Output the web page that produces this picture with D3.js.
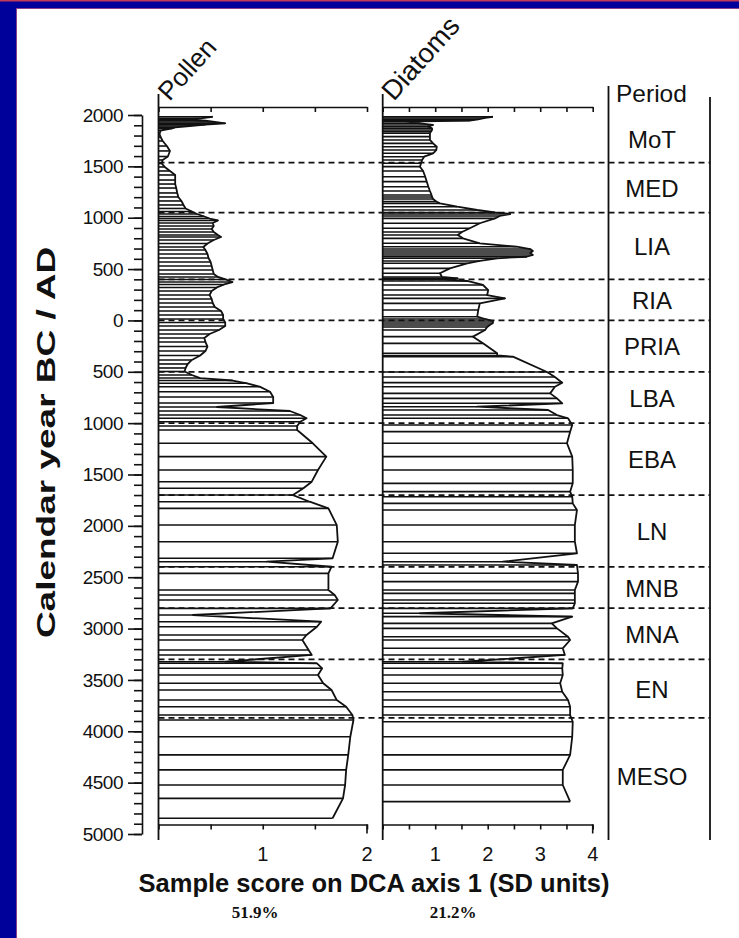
<!DOCTYPE html>
<html>
<head>
<meta charset="utf-8">
<script src="https://cdn.jsdelivr.net/npm/d3@7/dist/d3.min.js"></script>
<style>
  body { margin: 0; background: #fff; }
  svg { display: block; }
  text { font-family: "Liberation Sans", Arial, sans-serif; fill: #111; }
</style>
</head>
<body>
<div id="chart"></div>
<script>
// DCA axis 1 sample scores against calendar year (positive = AD, negative = BC)
const pollenYears = [1983, 1968, 1956, 1944, 1932, 1919, 1906, 1893, 1880, 1869, 1849, 1815, 1786, 1747, 1698,
  1650, 1596, 1562, 1528, 1494, 1455, 1416, 1367, 1328, 1289, 1241, 1202, 1163, 1124, 1090, 1060, 1036, 1012,
  992, 973, 949, 919, 890, 861, 832, 812, 783, 749, 715, 686, 647, 608, 569, 530, 491, 452, 423, 398, 374, 350,
  321, 286, 248, 209, 170, 131, 92, 53, 14, -20, -54, -93, -132, -171, -210, -254, -298, -341, -385, -424, -463,
  -497, -531, -561, -585, -612, -645, -694, -745, -804, -843, -882, -921, -953, -986, -1028, -1067, -1196, -1326,
  -1456, -1570, -1634, -1700, -1765, -1830, -1992, -2154, -2316, -2349, -2398, -2463, -2625, -2673, -2722, -2803,
  -2868, -2933, -2982, -3062, -3111, -3208, -3257, -3323, -3338, -3387, -3452, -3533, -3598, -3696, -3761, -3842,
  -3890, -4053, -4230, -4376, -4523, -4653, -4847];
const pollenScores = [0.52, 0.40, 0.26, 0.45, 0.54, 0.64, 0.45, 0.30, 0.16, 0.13, 0.02, 0.01, 0.02, 0.04, 0.08,
  0.11, 0.09, 0.04, 0.03, 0.06, 0.11, 0.16, 0.16, 0.16, 0.17, 0.18, 0.19, 0.22, 0.24, 0.26, 0.32, 0.37, 0.44,
  0.49, 0.57, 0.52, 0.53, 0.51, 0.53, 0.57, 0.60, 0.53, 0.47, 0.43, 0.45, 0.47, 0.48, 0.50, 0.51, 0.52, 0.53, 0.57,
  0.65, 0.71, 0.63, 0.56, 0.51, 0.49, 0.51, 0.52, 0.54, 0.60, 0.62, 0.62, 0.64, 0.64, 0.58, 0.49, 0.44, 0.45, 0.47,
  0.45, 0.40, 0.32, 0.28, 0.26, 0.25, 0.32, 0.40, 0.71, 0.85, 0.97, 1.07, 1.10, 1.10, 0.56, 1.26, 1.36, 1.42, 1.36,
  1.33, 1.33, 1.48, 1.61, 1.53, 1.47, 1.39, 1.29, 1.45, 1.63, 1.71, 1.72, 1.67, 1.04, 1.66, 1.63, 1.63, 1.69, 1.72,
  1.65, 0.33, 1.56, 1.52, 1.42, 1.38, 1.44, 1.47, 0.64, 1.52, 1.57, 1.53, 1.58, 1.66, 1.71, 1.80, 1.86, 1.87, 1.84,
  1.82, 1.80, 1.79, 1.77, 1.67];

const diatomYears = [1983, 1971, 1958, 1946, 1935, 1919, 1903, 1886, 1871, 1854, 1838, 1822, 1789, 1757, 1724, 1691,
  1659, 1627, 1594, 1562, 1530, 1497, 1455, 1399, 1351, 1302, 1260, 1221, 1202, 1182, 1158, 1140, 1107, 1075,
  1051, 1036, 1017, 994, 946, 897, 861, 832, 799, 751, 718, 695, 676, 656, 637, 620, 605, 579, 556, 507, 459, 423,
  410, 398, 384, 345, 296, 247, 215, 166, 101, 36, 14, -6, -25, -45, -64, -93, -158, -223, -320, -341, -353, -502,
  -551, -606, -645, -710, -759, -807, -840, -872, -921, -953, -1018, -1083, -1196, -1326, -1456, -1586, -1667,
  -1716, -1781, -1846, -1992, -2154, -2267, -2349, -2381, -2462, -2543, -2625, -2657, -2722, -2754, -2803, -2851,
  -2884, -2949, -2998, -3079, -3111, -3192, -3257, -3323, -3338, -3387, -3452, -3533, -3615, -3696, -3761, -3842,
  -3907, -4053, -4230, -4376, -4523, -4685];
const diatomScores = [2.10, 1.95, 1.82, 1.66, 0.46, 0.71, 0.96, 0.86, 0.94, 0.94, 0.92, 0.90, 0.90, 0.90, 0.96, 1.03,
  1.02, 0.96, 0.79, 0.75, 0.73, 0.71, 0.77, 0.81, 0.84, 0.87, 0.90, 0.93, 0.94, 0.96, 1.02, 1.09, 1.42, 1.80,
  2.14, 2.43, 2.23, 2.14, 1.85, 1.66, 1.51, 1.43, 1.53, 1.85, 2.55, 2.81, 2.86, 2.81, 2.86, 2.74, 2.18, 1.85, 1.61,
  1.28, 1.09, 1.13, 1.43, 1.19, 1.61, 1.91, 2.01, 1.99, 2.33, 1.85, 1.82, 1.80, 1.95, 2.10, 2.10, 2.04, 1.99, 1.95,
  1.72, 1.91, 2.18, 2.18, 2.48, 3.13, 3.28, 3.42, 3.28, 3.19, 3.32, 3.42, 1.80, 3.15, 3.32, 3.53, 3.61, 3.57, 3.51,
  3.61, 3.62, 3.62, 3.57, 3.61, 3.62, 3.70, 3.66, 3.66, 3.70, 2.29, 3.70, 3.72, 3.72, 3.66, 3.66, 3.66, 3.66, 3.62,
  0.71, 3.61, 3.22, 3.32, 3.53, 3.57, 3.43, 3.47, 1.53, 3.43, 3.42, 3.43, 3.38, 3.42, 3.53, 3.57, 3.57, 3.62, 3.61,
  3.57, 3.43, 3.43, 3.57];

const periodNames = ['MoT', 'MED', 'LIA', 'RIA', 'PRIA', 'LBA', 'EBA', 'LN', 'MNB', 'MNA', 'EN', 'MESO'];
const periodBounds = [2000, 1536, 1050, 400, 0, -500, -1000, -1700, -2400, -2800, -3300, -3870, -5000];

const yearTicks = d3.range(2000, -5001, -500);
const yearMinorTicks = d3.range(2000, -5001, -100);
const pollenTicks = [0, 0.5, 1, 1.5, 2];
const pollenLabels = [1, 2];
const diatomTicks = [0, 0.5, 1, 1.5, 2, 2.5, 3, 3.5, 4];
const diatomLabels = [1, 2, 3, 4];
const variance = ['51.9%', '21.2%'];

const width = 739, height = 938;
const ink = '#111';
const svg = d3.select('#chart').append('svg')
    .attr('width', width)
    .attr('height', height);

// frame of the original slide
svg.append('rect').attr('x', 0).attr('y', 0).attr('width', width).attr('height', 8).attr('fill', '#00009a');
svg.append('rect').attr('x', 0).attr('y', 0).attr('width', 16).attr('height', height).attr('fill', '#00009a');
svg.append('rect').attr('x', 0).attr('y', 0).attr('width', width).attr('height', 1.5).attr('fill', '#c23a5a');
svg.append('line').attr('x1', 16).attr('x2', width).attr('y1', 8.5).attr('y2', 8.5).attr('stroke', '#8a3f8f').attr('stroke-width', 1);
svg.append('line').attr('x1', 16.5).attr('x2', 16.5).attr('y1', 8).attr('y2', height).attr('stroke', '#8a3f8f').attr('stroke-width', 1);

const y = d3.scaleLinear().domain([2000, -5000]).range([115, 834]);
const xPollen = d3.scaleLinear().domain([0, 2]).range([158.5, 367]);
const xDiatom = d3.scaleLinear().domain([0, 4]).range([382.7, 592.7]);

const topScaleY = 107, bottomScaleY = 824.5;

// year axis
const yAxisX = 142;
svg.append('g')
    .attr('transform', `translate(${yAxisX},0)`)
    .call(d3.axisLeft(y).tickValues(yearMinorTicks).tickSize(8).tickSizeOuter(0).tickFormat(''))
    .call(g => g.selectAll('line').attr('stroke', ink).attr('stroke-width', 1.6))
    .call(g => g.select('.domain').attr('stroke', ink).attr('stroke-width', 1.6));
svg.append('g')
    .attr('transform', `translate(${yAxisX},0)`)
    .call(d3.axisLeft(y).tickValues(yearTicks).tickSize(14).tickPadding(5).tickSizeOuter(0).tickFormat(d => Math.abs(d)))
    .call(g => g.select('.domain').remove())
    .call(g => g.selectAll('line').attr('stroke', ink).attr('stroke-width', 1.6))
    .call(g => g.selectAll('text').style('font-size', '19px').attr('fill', ink).attr('letter-spacing', '-0.5px'));

// the original figure stretches this title along its length
svg.append('text')
    .attr('transform', `translate(55,${(y(2000) + y(-5000)) / 2 - 32}) rotate(-90) scale(1.48,1)`)
    .attr('text-anchor', 'middle')
    .style('font-size', '25px')
    .style('font-weight', 'bold')
    .text('Calendar year BC / AD');

// one stratigraphic panel: bars from zero plus the joined curve
function drawPanel(x, years, scores, ticks, labels, title, titleSize) {
    const g = svg.append('g');
    const x0 = x.range()[0], x1 = x.range()[1];

    g.append('line')
        .attr('x1', x0).attr('x2', x0)
        .attr('y1', 94).attr('y2', 840)
        .attr('stroke', ink).attr('stroke-width', 1.8);

    // scale bars top and bottom
    g.append('g')
        .attr('transform', `translate(0,${topScaleY})`)
        .call(d3.axisBottom(x).tickValues(ticks).tickSize(5).tickSizeOuter(0).tickFormat(''))
        .call(a => a.selectAll('line,path').attr('stroke', ink).attr('stroke-width', 1.6));
    g.append('g')
        .attr('transform', `translate(0,${bottomScaleY})`)
        .call(d3.axisBottom(x).tickValues(ticks).tickSize(5).tickSizeOuter(0).tickFormat(''))
        .call(a => a.selectAll('line,path').attr('stroke', ink).attr('stroke-width', 1.6));
    g.append('line')
        .attr('x1', x1).attr('x2', x1)
        .attr('y1', bottomScaleY).attr('y2', bottomScaleY + 9)
        .attr('stroke', ink).attr('stroke-width', 1.6);
    g.selectAll('text.tl')
        .data(labels)
        .enter().append('text')
        .attr('class', 'tl')
        .attr('x', d => x(d))
        .attr('y', 861)
        .attr('text-anchor', 'middle')
        .style('font-size', '20px')
        .text(d => d);

    const data = years.map((yr, i) => ({ yr, v: scores[i] }));

    g.selectAll('line.bar')
        .data(data)
        .enter().append('line')
        .attr('class', 'bar')
        .attr('x1', x0)
        .attr('x2', d => x(d.v))
        .attr('y1', d => y(d.yr))
        .attr('y2', d => y(d.yr))
        .attr('stroke', ink)
        .attr('stroke-width', 1.6);

    g.append('path')
        .datum(data)
        .attr('fill', 'none')
        .attr('stroke', ink)
        .attr('stroke-width', 1.8)
        .attr('stroke-linejoin', 'round')
        .attr('d', d3.line().x(d => x(d.v)).y(d => y(d.yr)));

    svg.append('text')
        .attr('transform', `translate(${x0 + 11},${topScaleY - 5}) rotate(-48)`)
        .style('font-size', titleSize)
        .text(title);
}

drawPanel(xPollen, pollenYears, pollenScores, pollenTicks, pollenLabels, 'Pollen', '26px');
drawPanel(xDiatom, diatomYears, diatomScores, diatomTicks, diatomLabels, 'Diatoms', '27.5px');

// period column
const colL = 608.5, colR = 710;
svg.append('line').attr('x1', colL).attr('x2', colL).attr('y1', 86).attr('y2', 840)
    .attr('stroke', ink).attr('stroke-width', 1.8);
svg.append('line').attr('x1', colR).attr('x2', colR).attr('y1', 97).attr('y2', 840)
    .attr('stroke', ink).attr('stroke-width', 1.8);
svg.append('text')
    .attr('x', 616).attr('y', 102)
    .style('font-size', '24.5px')
    .text('Period');

svg.selectAll('line.bound')
    .data(periodBounds.slice(1, -1))
    .enter().append('line')
    .attr('class', 'bound')
    .attr('x1', xPollen(0)).attr('x2', colR)
    .attr('y1', d => y(d)).attr('y2', d => y(d))
    .attr('stroke', ink)
    .attr('stroke-width', 1.7)
    .attr('stroke-dasharray', '6,4');

svg.selectAll('text.period')
    .data(periodNames)
    .enter().append('text')
    .attr('class', 'period')
    .attr('x', 652)
    .attr('y', (d, i) => (y(periodBounds[i]) + y(periodBounds[i + 1])) / 2)
    .attr('dy', '0.38em')
    .attr('text-anchor', 'middle')
    .style('font-size', '24px')
    .text(d => d);

// axis title and explained variance
svg.append('text')
    .attr('x', 374).attr('y', 892)
    .attr('text-anchor', 'middle')
    .style('font-size', '25.5px')
    .style('font-weight', 'bold')
    .text('Sample score on DCA axis 1 (SD units)');

svg.selectAll('text.var')
    .data(variance)
    .enter().append('text')
    .attr('class', 'var')
    .attr('x', (d, i) => i === 0 ? 255 : 453)
    .attr('y', 918)
    .attr('text-anchor', 'middle')
    .style('font-family', '"Liberation Serif", "Times New Roman", serif')
    .style('font-size', '17px')
    .style('font-weight', 'bold')
    .text(d => d);
</script>
</body>
</html>
